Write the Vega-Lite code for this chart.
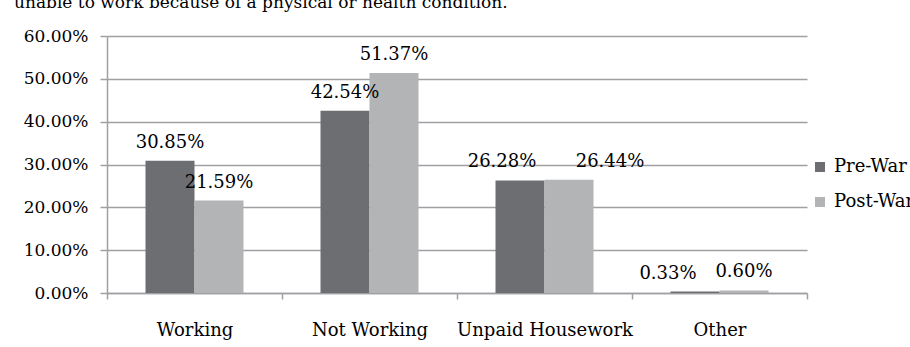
{
  "$schema": "https://vega.github.io/schema/vega-lite/v6.json",
  "autosize": {"type": "none"},
  "padding": {"left": 107, "top": 36, "right": 103, "bottom": 54},
  "width": 700,
  "height": 257,
  "background": "white",
  "title": {
    "text": "unable to work because of a physical or health condition.",
    "anchor": "start",
    "frame": "group",
    "baseline": "alphabetic",
    "offset": 0,
    "dy": -2,
    "dx": -93,
    "font": "DejaVu Serif",
    "fontSize": 17,
    "fontWeight": "normal",
    "color": "#000000"
  },
  "data": {
    "values": [
      {"category": "Working", "period": "Pre-War", "share": 0.3085},
      {"category": "Working", "period": "Post-War", "share": 0.2159},
      {"category": "Not Working", "period": "Pre-War", "share": 0.4254},
      {"category": "Not Working", "period": "Post-War", "share": 0.5137},
      {"category": "Unpaid Housework", "period": "Pre-War", "share": 0.2628},
      {"category": "Unpaid Housework", "period": "Post-War", "share": 0.2644},
      {"category": "Other", "period": "Pre-War", "share": 0.0033},
      {"category": "Other", "period": "Post-War", "share": 0.006}
    ]
  },
  "encoding": {
    "x": {
      "field": "category",
      "type": "nominal",
      "sort": ["Working", "Not Working", "Unpaid Housework", "Other"],
      "scale": {"paddingInner": 0, "paddingOuter": 0},
      "axis": {
        "title": null,
        "labelAngle": 0,
        "tickBand": "extent",
        "tickSize": 6,
        "tickColor": "#a0a0a4",
        "tickWidth": 1.5,
        "domainColor": "#a0a0a4",
        "domainWidth": 1.5,
        "labelFont": "DejaVu Serif",
        "labelFontSize": 18,
        "labelLimit": 400,
        "labelColor": "#000000",
        "labelBaseline": "alphabetic",
        "labelPadding": 36,
        "grid": false
      }
    },
    "xOffset": {
      "field": "period",
      "type": "nominal",
      "sort": ["Pre-War", "Post-War"],
      "scale": {"paddingInner": 0, "paddingOuter": 0.7857}
    },
    "y": {
      "field": "share",
      "type": "quantitative",
      "scale": {"domain": [0, 0.6], "nice": false},
      "axis": {
        "title": null,
        "format": ".2%",
        "values": [0, 0.1, 0.2, 0.3, 0.4, 0.5, 0.6],
        "grid": true,
        "gridColor": "#a0a0a4",
        "gridWidth": 1.5,
        "tickColor": "#a0a0a4",
        "tickWidth": 1.5,
        "tickSize": 7,
        "domainColor": "#a0a0a4",
        "domainWidth": 1.5,
        "labelFont": "DejaVu Serif",
        "labelFontSize": 17,
        "labelColor": "#000000",
        "labelPadding": 12,
        "labelBaseline": "middle"
      }
    }
  },
  "layer": [
    {
      "mark": {"type": "bar"},
      "encoding": {
        "color": {
          "field": "period",
          "type": "nominal",
          "sort": ["Pre-War", "Post-War"],
          "scale": {"domain": ["Pre-War", "Post-War"], "range": ["#6d6e71", "#b2b4b6"]},
          "legend": {
            "title": null,
            "orient": "none",
            "legendX": 704,
            "legendY": 122,
            "padding": 0,
            "symbolType": "square",
            "symbolSize": 100,
            "symbolStrokeWidth": 0,
            "labelFont": "DejaVu Serif",
            "labelFontSize": 18,
            "labelColor": "#000000",
            "labelOffset": 5,
            "labelLimit": 400,
            "rowPadding": 17
          }
        }
      }
    },
    {
      "transform": [{"filter": "!(datum.category === 'Unpaid Housework' || (datum.category === 'Other' && datum.period === 'Pre-War'))"}],
      "mark": {"type": "text", "baseline": "alphabetic", "dy": -13, "font": "DejaVu Serif", "fontSize": 18, "color": "#000000"},
      "encoding": {"text": {"field": "share", "type": "quantitative", "format": ".2%"}}
    },
    {
      "transform": [{"filter": "datum.category === 'Unpaid Housework' && datum.period === 'Pre-War'"}],
      "mark": {"type": "text", "baseline": "alphabetic", "dy": -13, "dx": -18, "font": "DejaVu Serif", "fontSize": 18, "color": "#000000"},
      "encoding": {"text": {"field": "share", "type": "quantitative", "format": ".2%"}}
    },
    {
      "transform": [{"filter": "datum.category === 'Unpaid Housework' && datum.period === 'Post-War'"}],
      "mark": {"type": "text", "baseline": "alphabetic", "dy": -13, "dx": 41, "font": "DejaVu Serif", "fontSize": 18, "color": "#000000"},
      "encoding": {"text": {"field": "share", "type": "quantitative", "format": ".2%"}}
    },
    {
      "transform": [{"filter": "datum.category === 'Other' && datum.period === 'Pre-War'"}],
      "mark": {"type": "text", "baseline": "alphabetic", "dy": -13, "dx": -27, "font": "DejaVu Serif", "fontSize": 18, "color": "#000000"},
      "encoding": {"text": {"field": "share", "type": "quantitative", "format": ".2%"}}
    }
  ],
  "config": {
    "view": {"stroke": null},
    "axis": {"labelFontWeight": "normal"}
  }
}
